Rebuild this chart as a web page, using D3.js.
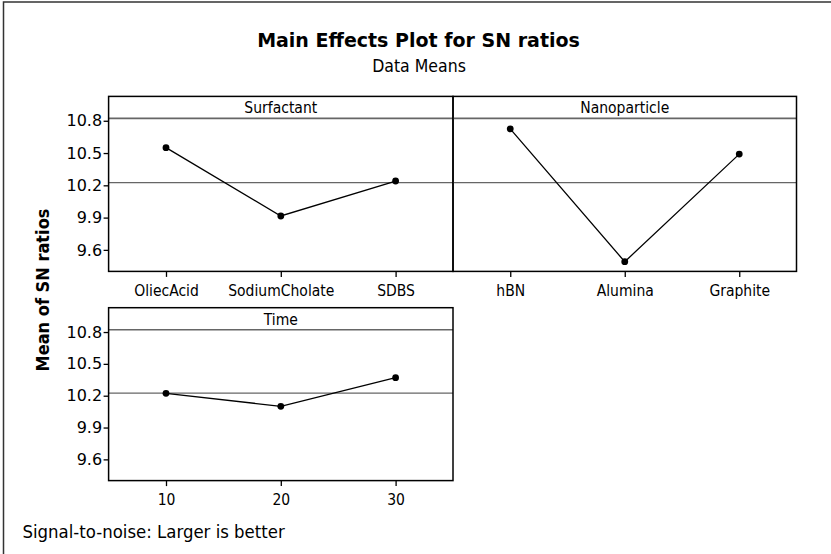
<!DOCTYPE html>
<html>
<head>
<meta charset="utf-8">
<script src="https://cdn.jsdelivr.net/npm/d3@7"></script>
<style>
  body { margin: 0; background: #fff; }
  svg { display: block; font-family: 'DejaVu Sans', Verdana, sans-serif; }
  .cond { font-family: 'DejaVu Sans Condensed', 'DejaVu Sans', sans-serif; font-stretch: condensed; }
</style>
</head>
<body>
<div id="container"></div>
<script>
// factor levels and means of SN ratios
const surfactantLevels = ['OliecAcid', 'SodiumCholate', 'SDBS'];
const surfactantMeans = [10.55, 9.915, 10.24];
const nanoparticleLevels = ['hBN', 'Alumina', 'Graphite'];
const nanoparticleMeans = [10.725, 9.49, 10.49];
const timeLevels = ['10', '20', '30'];
const timeMeans = [10.222, 10.10, 10.37];
const grandMean = 10.225;
const yTicks = [9.6, 9.9, 10.2, 10.5, 10.8];

const factors = [
    { name: 'Surfactant', levels: surfactantLevels, means: surfactantMeans, col: 0, row: 0 },
    { name: 'Nanoparticle', levels: nanoparticleLevels, means: nanoparticleMeans, col: 1, row: 0 },
    { name: 'Time', levels: timeLevels, means: timeMeans, col: 0, row: 1 }
];

const width = 831;
const height = 554;
const cols = [[108.6, 453], [453, 796.5]];
const rows = [[118.4, 271.4], [329.7, 480.6]];
const stripH = 22;
const yDomain = [9.4, 10.822];

const svg = d3.select('#container').append('svg')
    .attr('width', width)
    .attr('height', height);

// outer frame (left and top edges only)
svg.append('path')
    .attr('d', 'M3.5,' + height + ' V2 H' + width)
    .attr('fill', 'none')
    .attr('stroke', '#333')
    .attr('stroke-width', 1.5);

svg.append('text')
    .attr('x', 418.5)
    .attr('y', 47)
    .attr('text-anchor', 'middle')
    .style('font-weight', 'bold')
    .style('font-size', '19px')
    .text('Main Effects Plot for SN ratios');
svg.append('text')
    .attr('class', 'cond')
    .attr('x', 419)
    .attr('y', 71.5)
    .attr('text-anchor', 'middle')
    .style('font-size', '17.5px')
    .text('Data Means');

factors.forEach((f) => {
    const [x0, x1] = cols[f.col];
    const [y0, y1] = rows[f.row];
    const g = svg.append('g');

    const xScale = d3.scalePoint()
        .domain(f.levels)
        .range([x0, x1])
        .padding(0.5);
    const yScale = d3.scaleLinear()
        .domain(yDomain)
        .range([y1, y0]);

    // grand mean reference line
    g.append('line')
        .attr('x1', x0).attr('x2', x1)
        .attr('y1', yScale(grandMean)).attr('y2', yScale(grandMean))
        .attr('stroke', '#666')
        .attr('stroke-width', 1.3);

    // strip
    g.append('line')
        .attr('x1', x0).attr('x2', x1)
        .attr('y1', y0).attr('y2', y0)
        .attr('stroke', '#666')
        .attr('stroke-width', 1.6);
    g.append('text')
        .attr('class', 'cond')
        .attr('x', (x0 + x1) / 2)
        .attr('y', y0 - stripH / 2 + 6)
        .attr('text-anchor', 'middle')
        .style('font-size', '15.5px')
        .text(f.name);

    // x axis
    const xAxis = g.append('g')
        .attr('transform', 'translate(0,' + y1 + ')')
        .call(d3.axisBottom(xScale).tickSize(5.5).tickPadding(8));
    xAxis.select('.domain').remove();
    xAxis.selectAll('line').attr('stroke', '#000').attr('stroke-width', 1.3);
    xAxis.selectAll('text')
        .attr('class', 'cond')
        .style('font-size', '15.5px')
        .attr('fill', '#000');

    // y axis on left column only
    if (f.col === 0) {
        const yAxis = g.append('g')
            .attr('transform', 'translate(' + x0 + ',0)')
            .call(d3.axisLeft(yScale).tickValues(yTicks).tickSize(5).tickPadding(1.5)
                .tickFormat(d3.format('.1f')));
        yAxis.select('.domain').remove();
        yAxis.selectAll('line').attr('stroke', '#000').attr('stroke-width', 1.3);
        yAxis.selectAll('text')
            .style('font-size', '16px')
            .style('font-family', "'DejaVu Sans', Verdana, sans-serif")
            .attr('fill', '#000');
    }

    // panel frame including strip
    g.append('rect')
        .attr('x', x0).attr('y', y0 - stripH)
        .attr('width', x1 - x0).attr('height', y1 - y0 + stripH)
        .attr('fill', 'none')
        .attr('stroke', '#000')
        .attr('stroke-width', 1.5);

    const pts = f.levels.map((l, i) => ({ level: l, mean: f.means[i] }));
    g.append('path')
        .datum(pts)
        .attr('fill', 'none')
        .attr('stroke', '#000')
        .attr('stroke-width', 1.3)
        .attr('d', d3.line()
            .x((d) => xScale(d.level))
            .y((d) => yScale(d.mean)));
    g.selectAll('.pt')
        .data(pts)
        .enter().append('circle')
        .attr('class', 'pt')
        .attr('r', 3.4)
        .attr('cx', (d) => xScale(d.level))
        .attr('cy', (d) => yScale(d.mean))
        .attr('fill', '#000');
});

svg.append('text')
    .attr('class', 'cond')
    .attr('text-anchor', 'middle')
    .attr('transform', 'translate(49,290) rotate(-90)')
    .style('font-weight', 'bold')
    .style('font-size', '18px')
    .text('Mean of SN ratios');

svg.append('text')
    .attr('class', 'cond')
    .attr('x', 22.5)
    .attr('y', 537.5)
    .style('font-size', '18.4px')
    .text('Signal-to-noise: Larger is better');
</script>
</body>
</html>
